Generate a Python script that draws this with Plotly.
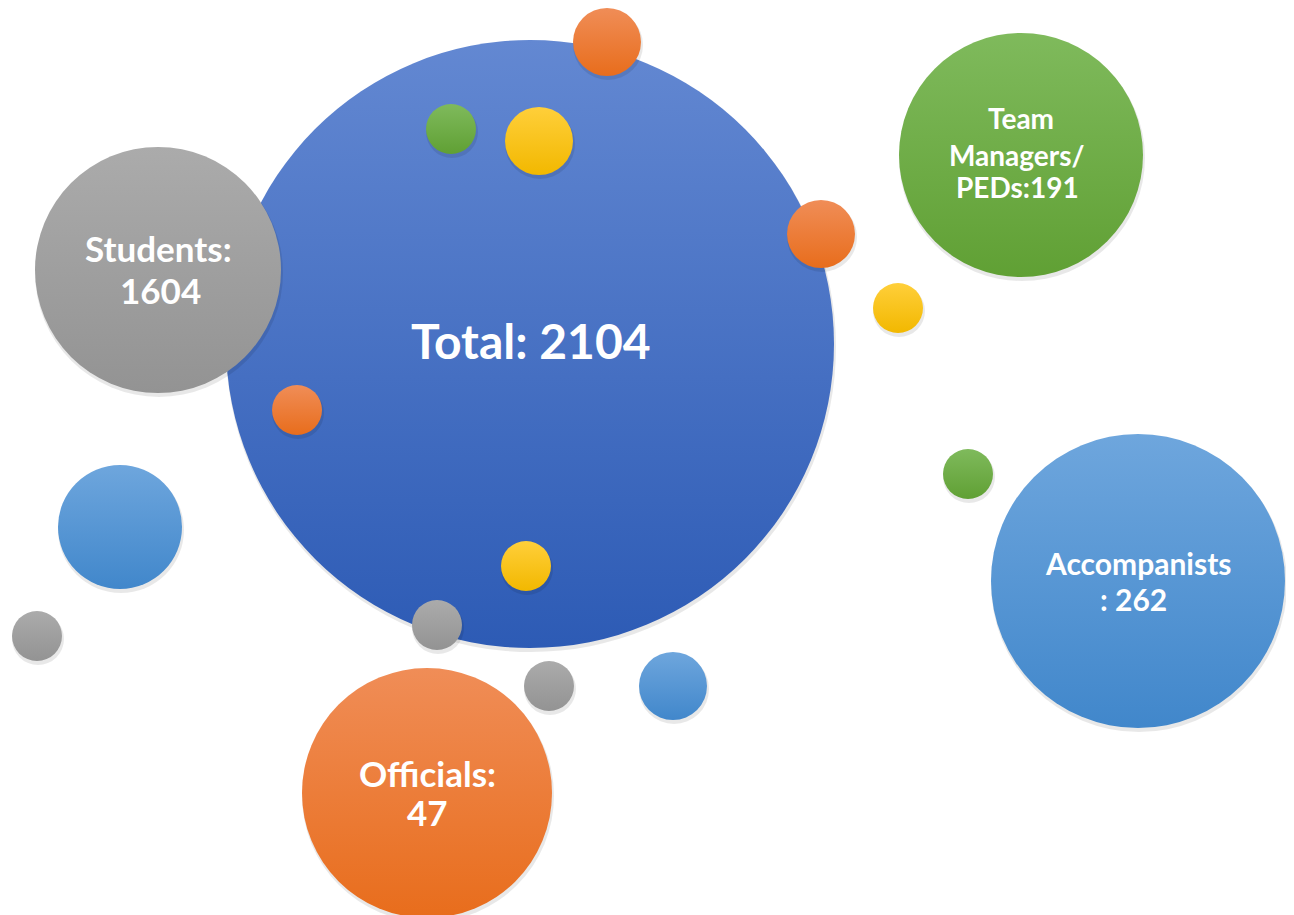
import plotly.graph_objects as go

# ---- data ----
categories = ["Total", "Students", "Team Managers/ PEDs", "Accompanists", "Officials"]
counts = [2104, 1604, 191, 262, 47]
label_lines = [
    ["Total: 2104"],
    ["Students:", "1604"],
    ["Team", "Managers/", "PEDs:191"],
    ["Accompanists", ": 262"],
    ["Officials:", "47"],
]

# ---- layout (pixel positions of the bubbles) ----
W, H = 1294, 915
OFF = 8  # page body margin
main_x = [530, 158, 1021, 1138, 427]
main_y = [344, 270, 155, 581, 793]
main_r = [304, 123, 122, 147, 125]
main_top = ["#6388D2", "#ABABAB", "#7FBA5C", "#6EA6DD", "#F08D57"]
main_bot = ["#2D5BB5", "#939393", "#60A034", "#4187CB", "#E86D1C"]
label_y = [[340], [248, 290], [118, 155, 187], [563, 599], [773, 812]]
label_x = [[531], [158, 160], [1021, 1017, 1017], [1138, 1133], [427, 427]]
label_size = [48, 35, 28, 30, 35]

deco_x = [607, 451, 539, 821, 898, 297, 968, 526, 437, 549, 673, 120, 37]
deco_y = [42, 129, 141, 234, 308, 410, 474, 566, 625, 686, 686, 527, 636]
deco_r = [34, 25, 34, 34, 25, 25, 25, 25, 25, 25, 34, 62, 25]
palette = {
    "orange": ("#F08D57", "#E86D1C"),
    "green": ("#7FBA5C", "#60A034"),
    "yellow": ("#FFCF3A", "#F2B800"),
    "gray": ("#ABABAB", "#939393"),
    "blue": ("#6EA6DD", "#4187CB"),
}
deco_color = ["orange", "green", "yellow", "orange", "yellow", "orange", "green",
              "yellow", "gray", "gray", "blue", "blue", "gray"]

fig = go.Figure()


def add_bubble(x, y, r, top, bot, name):
    # soft shadow
    fig.add_trace(go.Scatter(
        x=[x + 1], y=[y + 3], mode="markers", hoverinfo="skip", showlegend=False,
        marker=dict(size=2 * r + 2, color="rgba(0,0,0,0.09)", line=dict(width=0)),
    ))
    fig.add_trace(go.Scatter(
        x=[x], y=[y], mode="markers", name=name, showlegend=False,
        marker=dict(size=2 * r, color=top, line=dict(width=0),
                    gradient=dict(type="vertical", color=bot)),
    ))


# big total bubble first
add_bubble(main_x[0], main_y[0], main_r[0], main_top[0], main_bot[0], categories[0])
# decorative small bubbles
for x, y, r, c in zip(deco_x, deco_y, deco_r, deco_color):
    add_bubble(x, y, r, palette[c][0], palette[c][1], c)
# category bubbles
for i in range(1, len(categories)):
    add_bubble(main_x[i], main_y[i], main_r[i], main_top[i], main_bot[i], categories[i])

annotations = []
for i in range(len(categories)):
    for txt, lx, ly in zip(label_lines[i], label_x[i], label_y[i]):
        annotations.append(dict(
            x=lx, y=ly, xref="x", yref="y", text="<b>" + txt + "</b>", showarrow=False,
            font=dict(family="Lato, Open Sans, sans-serif", size=label_size[i], color="white"),
            xanchor="center", yanchor="middle",
        ))

fig.update_layout(
    width=W, height=H, margin=dict(l=0, r=0, t=0, b=0),
    paper_bgcolor="white", plot_bgcolor="white",
    xaxis=dict(range=[OFF, W + OFF], visible=False, fixedrange=True),
    yaxis=dict(range=[H + OFF, OFF], visible=False, fixedrange=True),
    annotations=annotations, showlegend=False,
)

fig.write_html("out.html")
